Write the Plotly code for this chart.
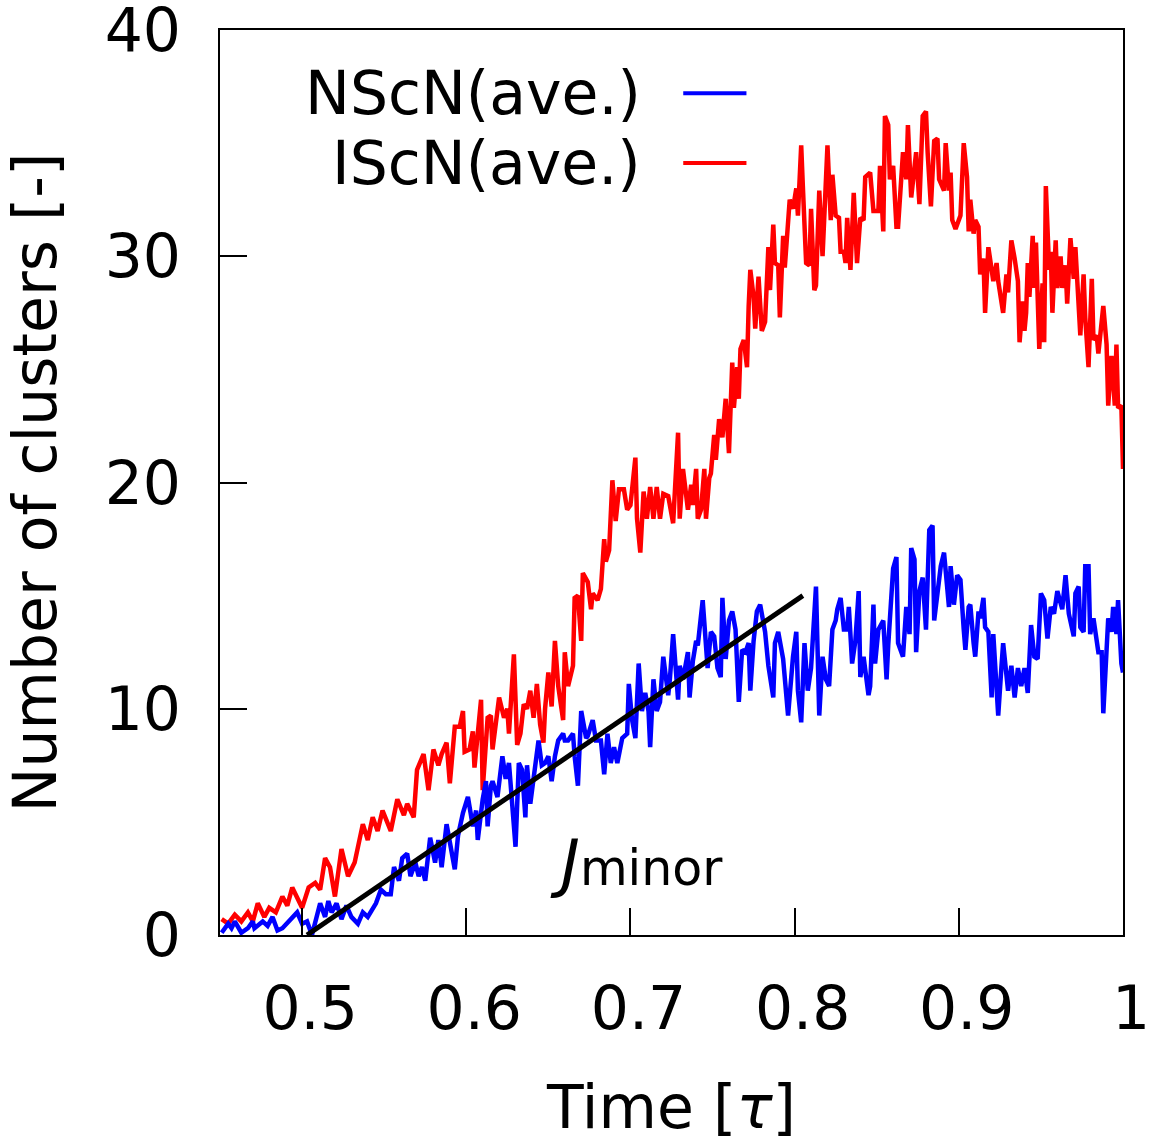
import plotly.graph_objects as go

# ---------------- data ----------------
iscn_t = [0.451, 0.455, 0.459, 0.463, 0.467, 0.470, 0.473, 0.477, 0.480, 0.484,
          0.488, 0.491, 0.494, 0.497, 0.500, 0.504, 0.508, 0.511, 0.514, 0.517,
          0.520, 0.524, 0.528, 0.532, 0.537, 0.540, 0.543, 0.546, 0.549, 0.554,
          0.558, 0.562, 0.564, 0.568, 0.570, 0.574, 0.577, 0.580, 0.583, 0.585,
          0.588, 0.590, 0.593, 0.596, 0.598, 0.599, 0.602, 0.604, 0.605, 0.609,
          0.610, 0.613, 0.615, 0.616, 0.620, 0.623, 0.625, 0.626, 0.629, 0.631,
          0.633, 0.635, 0.637, 0.639, 0.641, 0.643, 0.645, 0.647, 0.648, 0.650,
          0.652, 0.654, 0.656, 0.659, 0.660, 0.662, 0.665, 0.666, 0.668, 0.670,
          0.671, 0.674, 0.676, 0.677, 0.680, 0.682, 0.684, 0.685, 0.687, 0.689,
          0.691, 0.693, 0.696, 0.698, 0.700, 0.703, 0.704, 0.706, 0.708, 0.710,
          0.712, 0.714, 0.716, 0.718, 0.720, 0.723, 0.724, 0.726, 0.729, 0.730,
          0.732, 0.735, 0.737, 0.738, 0.740, 0.741, 0.743, 0.745, 0.746, 0.748,
          0.749, 0.751, 0.752, 0.754, 0.756, 0.758, 0.760, 0.762, 0.763, 0.765,
          0.766, 0.767, 0.769, 0.771, 0.772, 0.773, 0.775, 0.776, 0.778, 0.780,
          0.782, 0.784, 0.785, 0.787, 0.788, 0.790, 0.791, 0.793, 0.794, 0.796,
          0.797, 0.799, 0.801, 0.802, 0.804, 0.805, 0.807, 0.809, 0.810, 0.812,
          0.813, 0.815, 0.817, 0.820, 0.822, 0.823, 0.825, 0.827, 0.828, 0.830,
          0.831, 0.832, 0.834, 0.836, 0.838, 0.840, 0.842, 0.843, 0.846, 0.848,
          0.851, 0.852, 0.854, 0.855, 0.857, 0.858, 0.860, 0.862, 0.863, 0.866,
          0.868, 0.869, 0.871, 0.874, 0.876, 0.878, 0.880, 0.881, 0.883, 0.885,
          0.887, 0.888, 0.891, 0.892, 0.894, 0.895, 0.896, 0.898, 0.900, 0.901,
          0.903, 0.905, 0.906, 0.907, 0.909, 0.910, 0.912, 0.913, 0.915, 0.916,
          0.918, 0.921, 0.923, 0.924, 0.927, 0.929, 0.930, 0.932, 0.934, 0.936,
          0.937, 0.939, 0.940, 0.941, 0.942, 0.943, 0.945, 0.946, 0.947, 0.948,
          0.949, 0.951, 0.952, 0.953, 0.955, 0.956, 0.957, 0.959, 0.960, 0.962,
          0.963, 0.965, 0.966, 0.968, 0.970, 0.971, 0.973, 0.974, 0.976, 0.977,
          0.979, 0.981, 0.982, 0.984, 0.985, 0.988, 0.990, 0.991, 0.993, 0.995,
          0.996, 0.997, 0.999, 1.000]
iscn_n = [0.7, 0.5, 0.9, 0.6, 1.0, 0.6, 1.4, 0.8, 1.2, 1.0,
          1.7, 1.3, 2.1, 1.6, 1.2, 2.1, 2.3, 2.0, 3.4, 3.0,
          1.7, 3.8, 2.6, 3.2, 4.9, 4.2, 5.2, 4.6, 5.5, 4.6,
          6.0, 5.3, 5.8, 5.2, 7.3, 8.0, 6.4, 8.2, 7.5, 8.0,
          8.5, 6.7, 9.2, 9.2, 9.9, 8.1, 8.2, 9.0, 7.4, 10.4,
          6.4, 9.6, 9.7, 8.2, 10.5, 9.6, 10.0, 8.9, 12.4, 8.4,
          8.9, 10.2, 10.0, 10.8, 9.6, 11.1, 9.3, 8.5, 10.0, 11.6,
          10.1, 13.0, 11.0, 9.5, 12.5, 11.0, 11.9, 14.9, 15.0, 13.0,
          16.0, 15.6, 14.4, 15.1, 14.8, 15.3, 17.5, 16.5, 17.0, 20.1,
          18.3, 19.7, 19.7, 18.8, 19.0, 21.1, 18.4, 16.9, 19.6, 18.4,
          19.8, 18.4, 19.8, 18.4, 19.5, 19.4, 19.0, 18.2, 22.2, 18.4,
          20.6, 18.8, 19.9, 19.0, 20.6, 18.4, 18.8, 20.6, 18.4, 20.2,
          20.4, 22.1, 21.0, 22.8, 22.0, 23.7, 21.3, 25.3, 23.3, 25.1,
          23.7, 25.9, 26.3, 25.1, 27.8, 29.4, 28.2, 26.8, 29.1, 26.7,
          27.1, 30.4, 28.5, 31.4, 29.7, 29.6, 27.3, 30.9, 29.5, 31.8,
          32.5, 32.1, 33.0, 31.8, 34.9, 33.1, 29.7, 29.6, 32.1, 28.5,
          28.7, 32.9, 30.0, 34.9, 31.6, 33.6, 31.8, 31.7, 30.2, 30.2,
          29.7, 31.7, 29.4, 32.8, 29.7, 31.7, 31.6, 33.5, 33.7, 32.0,
          32.0, 34.0, 31.1, 36.2, 35.8, 33.4, 34.0, 31.3, 31.3, 34.6,
          33.4, 35.8, 32.6, 34.6, 32.3, 36.2, 36.4, 34.6, 32.2, 35.1,
          35.2, 33.4, 32.9, 35.0, 32.9, 33.7, 31.6, 31.2, 31.6, 31.8,
          35.0, 33.5, 31.1, 32.5, 31.0, 31.6, 31.3, 29.2, 29.9, 27.5,
          30.4, 28.9, 29.7, 28.9, 27.5, 29.2, 28.4, 30.7, 29.9, 28.9,
          26.2, 28.0, 26.7, 27.5, 29.7, 28.2, 30.9, 28.6, 30.6, 28.0,
          25.9, 28.8, 26.2, 33.1, 29.4, 30.2, 27.5, 30.7, 28.6, 30.0,
          28.6, 29.6, 27.9, 30.8, 29.0, 30.4, 27.4, 26.5, 29.2, 27.3,
          25.1, 29.0, 26.3, 26.5, 25.7, 27.8, 26.1, 23.4, 25.6, 23.4,
          26.1, 23.3, 23.4, 20.6]

nscn_t = [0.451, 0.455, 0.457, 0.459, 0.463, 0.467, 0.470, 0.471, 0.476, 0.479,
          0.482, 0.485, 0.488, 0.494, 0.497, 0.500, 0.503, 0.506, 0.509, 0.511,
          0.514, 0.516, 0.518, 0.521, 0.524, 0.527, 0.530, 0.534, 0.537, 0.540,
          0.545, 0.548, 0.551, 0.554, 0.556, 0.559, 0.561, 0.564, 0.566, 0.569,
          0.571, 0.573, 0.575, 0.578, 0.581, 0.583, 0.585, 0.588, 0.590, 0.593,
          0.595, 0.598, 0.601, 0.604, 0.606, 0.607, 0.610, 0.612, 0.613, 0.615,
          0.616, 0.619, 0.622, 0.624, 0.626, 0.628, 0.630, 0.632, 0.634, 0.636,
          0.637, 0.639, 0.641, 0.644, 0.646, 0.648, 0.650, 0.652, 0.654, 0.656,
          0.659, 0.660, 0.662, 0.665, 0.666, 0.668, 0.670, 0.673, 0.674, 0.677,
          0.679, 0.682, 0.684, 0.686, 0.688, 0.690, 0.692, 0.695, 0.698, 0.699,
          0.701, 0.703, 0.705, 0.707, 0.709, 0.711, 0.712, 0.714, 0.716, 0.718,
          0.720, 0.723, 0.724, 0.726, 0.729, 0.730, 0.732, 0.735, 0.736, 0.738,
          0.740, 0.741, 0.744, 0.746, 0.747, 0.749, 0.751, 0.753, 0.755, 0.756,
          0.758, 0.760, 0.762, 0.764, 0.766, 0.768, 0.770, 0.772, 0.773, 0.775,
          0.777, 0.779, 0.781, 0.782, 0.784, 0.787, 0.788, 0.790, 0.793, 0.795,
          0.796, 0.799, 0.801, 0.802, 0.804, 0.806, 0.808, 0.810, 0.813, 0.815,
          0.817, 0.819, 0.821, 0.823, 0.825, 0.826, 0.828, 0.830, 0.832, 0.833,
          0.835, 0.837, 0.839, 0.840, 0.842, 0.845, 0.846, 0.848, 0.849, 0.851,
          0.854, 0.856, 0.857, 0.860, 0.862, 0.863, 0.866, 0.868, 0.870, 0.871,
          0.873, 0.874, 0.876, 0.878, 0.880, 0.882, 0.884, 0.885, 0.887, 0.889,
          0.891, 0.892, 0.894, 0.895, 0.897, 0.899, 0.901, 0.903, 0.904, 0.906,
          0.907, 0.909, 0.910, 0.912, 0.913, 0.915, 0.916, 0.918, 0.920, 0.921,
          0.924, 0.926, 0.927, 0.930, 0.932, 0.934, 0.936, 0.938, 0.940, 0.942,
          0.944, 0.946, 0.948, 0.950, 0.952, 0.954, 0.956, 0.958, 0.960, 0.963,
          0.965, 0.967, 0.970, 0.971, 0.973, 0.974, 0.976, 0.977, 0.979, 0.980,
          0.982, 0.985, 0.987, 0.988, 0.990, 0.991, 0.993, 0.994, 0.996, 0.997,
          0.999, 1.000]
nscn_n = [0.1, 0.5, 0.3, 0.6, 0.1, 0.3, 0.6, 0.3, 0.6, 0.4,
          0.8, 0.2, 0.3, 0.8, 1.0, 0.5, 0.6, 0.0, 0.8, 1.4,
          0.8, 1.5, 1.0, 1.4, 0.7, 1.3, 0.8, 0.5, 1.0, 0.8,
          1.4, 2.0, 1.8, 1.8, 3.0, 2.4, 3.4, 3.6, 2.6, 3.2,
          2.6, 3.0, 2.4, 4.3, 3.2, 4.2, 3.0, 4.9, 4.1, 2.9,
          4.4, 5.4, 6.1, 4.8, 5.5, 4.2, 6.0, 6.8, 4.8, 6.6,
          6.8, 6.1, 7.9, 6.9, 7.6, 6.0, 3.9, 7.6, 7.3, 5.2,
          7.5, 5.8, 6.8, 8.6, 7.5, 7.6, 7.9, 6.8, 7.9, 8.6,
          8.9, 8.6, 8.6, 8.9, 7.9, 6.6, 9.9, 8.7, 8.8, 9.5,
          8.6, 8.6, 7.1, 8.9, 7.6, 8.3, 7.6, 8.7, 8.9, 11.1,
          9.5, 8.7, 12.0, 9.9, 10.7, 9.9, 8.3, 11.3, 9.9, 10.3,
          12.3, 10.6, 11.3, 13.3, 10.4, 11.9, 11.3, 12.5, 10.5, 12.1,
          13.0, 12.8, 14.8, 13.0, 11.8, 13.4, 13.2, 11.8, 11.4, 14.9,
          12.2, 13.9, 14.3, 13.5, 10.3, 12.6, 12.5, 12.9, 10.8, 13.0,
          14.3, 14.6, 13.6, 13.4, 11.9, 10.5, 12.9, 13.4, 12.2, 10.5,
          9.7, 12.3, 13.4, 10.8, 9.4, 12.9, 10.8, 11.8, 15.4, 9.7,
          12.3, 11.3, 11.0, 13.5, 13.9, 14.4, 14.9, 13.5, 13.5, 14.5,
          12.0, 13.0, 15.2, 11.4, 12.3, 10.6, 11.0, 14.6, 12.0, 13.5,
          13.9, 11.3, 12.8, 16.2, 16.7, 12.9, 12.3, 14.5, 13.3, 17.1,
          16.6, 12.5, 15.2, 15.8, 13.5, 17.9, 18.1, 13.9, 15.3, 16.3,
          16.9, 15.9, 14.5, 16.3, 14.6, 15.9, 15.7, 13.5, 12.6, 14.5,
          14.6, 12.9, 12.3, 14.3, 14.0, 14.9, 13.6, 13.4, 10.5, 13.3,
          9.7, 11.9, 12.9, 10.8, 11.9, 10.5, 11.8, 11.0, 11.8, 10.7,
          13.7, 12.3, 12.2, 15.1, 14.8, 13.1, 14.5, 14.2, 15.2, 14.4,
          15.9, 14.2, 13.2, 15.1, 15.4, 13.6, 13.4, 16.3, 16.3, 13.3,
          14.0, 12.5, 12.5, 9.8, 12.4, 14.0, 13.4, 14.5, 13.3, 14.8,
          12.0, 11.6]

jminor_t = [0.503, 0.805]
jminor_n = [0.0, 15.0]

x_ticks = [0.5, 0.6, 0.7, 0.8, 0.9, 1.0]
x_tick_labels = ["0.5", "0.6", "0.7", "0.8", "0.9", "1"]
y_ticks = [0, 10, 20, 30, 40]
y_tick_labels = ["0", "10", "20", "30", "40"]

series_names = ["NScN(ave.)", "IScN(ave.)"]
RED = "#ff0000"
BLUE = "#0000ff"
FONT = "DejaVu Sans"
FS = 60

# ---------------- figure ----------------
fig = go.Figure()
fig.add_trace(go.Scatter(x=iscn_t, y=iscn_n, mode="lines", name=series_names[1],
                         line=dict(color=RED, width=4.5), showlegend=False))
fig.add_trace(go.Scatter(x=nscn_t, y=nscn_n, mode="lines", name=series_names[0],
                         line=dict(color=BLUE, width=4.5), showlegend=False))
fig.add_trace(go.Scatter(x=jminor_t, y=jminor_n, mode="lines", name="J_minor",
                         line=dict(color="black", width=5), showlegend=False))

axis_common = dict(showline=True, linecolor="black", linewidth=2, mirror=True,
                   ticks="inside", ticklen=27, tickwidth=2, tickcolor="black",
                   showgrid=False, zeroline=False, automargin=False,
                   ticklabeloverflow="allow",
                   tickfont=dict(family=FONT, size=FS, color="black"))

fig.update_xaxes(range=[0.45, 1.0], tickvals=x_ticks, ticktext=x_tick_labels,
                 ticklabelstandoff=20, ticklabelshift=8,
                 title=dict(text="Time [<i>τ</i>]", standoff=50,
                            font=dict(family=FONT, size=FS, color="black")),
                 **axis_common)
fig.update_yaxes(range=[0, 40], tickvals=y_ticks, ticktext=y_tick_labels,
                 ticklabelstandoff=25,
                 title=dict(text="Number of clusters [-]", standoff=40,
                            font=dict(family=FONT, size=FS, color="black")),
                 **axis_common)

# legend (text left of line, right aligned, as in the original)
legend_rows = [(series_names[0], BLUE, 0.930), (series_names[1], RED, 0.853)]
for label, col, yp in legend_rows:
    fig.add_annotation(x=0.468, y=yp, xref="paper", yref="paper", text=label,
                       showarrow=False, xanchor="right", yanchor="middle",
                       font=dict(family=FONT, size=FS, color="black"))
    fig.add_shape(type="line", xref="paper", yref="paper", x0=0.513, x1=0.583,
                  y0=yp, y1=yp, line=dict(color=col, width=4))

fig.add_annotation(x=0.7037, y=3.2, xref="x", yref="y",
                   text="<i><span style='font-size:64px'>J</span></i>minor",
                   showarrow=False, xanchor="center", yanchor="middle",
                   font=dict(family=FONT, size=49, color="black"))

fig.update_layout(width=1153, height=1142, plot_bgcolor="white", paper_bgcolor="white",
                  margin=dict(l=220, r=30, t=30, b=207), showlegend=False)

fig.write_html("out.html")
